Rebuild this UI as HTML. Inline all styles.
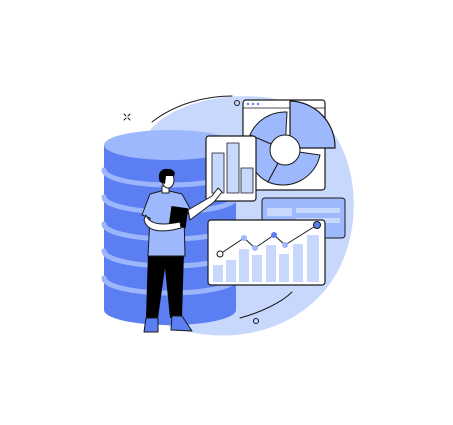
<!DOCTYPE html>
<html><head><style>html,body{margin:0;padding:0;background:#fff}svg{display:block}</style></head>
<body>
<svg width="453" height="425" viewBox="0 0 453 425" xmlns="http://www.w3.org/2000/svg" stroke-linecap="round" stroke-linejoin="round">
<!-- background blob -->
<path d="M150 130 C180 95 260 85 310 110 C350 135 365 200 345 255 C325 310 270 340 210 335 C150 330 110 300 108 240 C106 190 125 155 150 130Z" fill="#c8d8fd"/>
<path d="M152 122 C175 104 205 96 232 96" fill="none" stroke="#1a1a1a" stroke-width="1"/>
<circle cx="237" cy="103" r="2.5" fill="none" stroke="#1a1a1a" stroke-width="1"/>
<path d="M240 318 C262 312 282 302 292 292" fill="none" stroke="#1a1a1a" stroke-width="1"/>
<circle cx="256" cy="321" r="2.5" fill="none" stroke="#1a1a1a" stroke-width="1"/>
<g stroke="#1a1a1a" stroke-width="1"><line x1="124" y1="114" x2="126" y2="116"/><line x1="130" y1="114" x2="128" y2="116"/><line x1="124" y1="120" x2="126" y2="118"/><line x1="130" y1="120" x2="128" y2="118"/></g>
<!-- cylinder -->
<path d="M104 145 L104 310 A66 15 0 0 0 236 310 L236 145Z" fill="#5b7ef2"/>
<g fill="none" stroke="#9bb6fc" stroke-width="5">
<path d="M104 170 A66 15 0 0 0 236 170"/>
<path d="M104 197 A66 15 0 0 0 236 197"/>
<path d="M104 224 A66 15 0 0 0 236 224"/>
<path d="M104 251 A66 15 0 0 0 236 251"/>
<path d="M104 278 A66 15 0 0 0 236 278"/>
</g>
<ellipse cx="170" cy="145" rx="66" ry="15" fill="#9db8fc"/>
<!-- pie window -->
<rect x="243" y="100" width="82" height="90" rx="3" fill="#fff" stroke="#1a1a1a" stroke-width="1.2"/>
<line x1="243" y1="108" x2="325" y2="108" stroke="#1a1a1a" stroke-width="0.8"/>
<circle cx="248" cy="104" r="1.2" fill="#5b7ef2"/><circle cx="253" cy="104" r="1.2" fill="#5b7ef2"/><circle cx="258" cy="104" r="1.2" fill="#5b7ef2"/>
<path d="M285 150 L250 135 A38 38 0 0 1 287 112Z" fill="#9db8fc" stroke="#1a1a1a" stroke-width="1"/>
<path d="M285 150 L250 135 A38 38 0 0 0 268 182Z" fill="#9db8fc" stroke="#1a1a1a" stroke-width="1"/>
<path d="M285 150 L268 182 A38 38 0 0 0 320 155Z" fill="#9db8fc" stroke="#1a1a1a" stroke-width="1"/>
<path d="M290 148 L290 101 A46 46 0 0 1 335 148Z" fill="#9db8fc" stroke="#1a1a1a" stroke-width="1.2"/>
<circle cx="285" cy="150" r="15" fill="#fff" stroke="#1a1a1a" stroke-width="1"/>
<!-- bar card -->
<rect x="206" y="136" width="50" height="65" rx="3" fill="#fff" stroke="#1a1a1a" stroke-width="1.2"/>
<rect x="212" y="153" width="12" height="40" fill="#c8d8fd" stroke="#1a1a1a" stroke-width="0.8"/>
<rect x="227" y="143" width="12" height="50" fill="#c8d8fd" stroke="#1a1a1a" stroke-width="0.8"/>
<rect x="241" y="168" width="12" height="25" fill="#c8d8fd" stroke="#1a1a1a" stroke-width="0.8"/>
<!-- small window -->
<rect x="262" y="198" width="83" height="40" rx="3" fill="#9db8fc" stroke="#1a1a1a" stroke-width="1"/>
<rect x="267" y="208" width="25" height="8" fill="#c8d8fd"/><rect x="296" y="208" width="44" height="5" fill="#c8d8fd"/><rect x="296" y="218" width="44" height="5" fill="#c8d8fd"/>
<!-- line chart card -->
<rect x="208" y="220" width="117" height="65" rx="3" fill="#fff" stroke="#1a1a1a" stroke-width="1.2"/>
<g fill="#c8d8fd">
<rect x="213" y="265" width="10" height="17"/><rect x="226" y="260" width="10" height="22"/><rect x="239" y="249" width="10" height="33"/><rect x="252" y="255" width="10" height="27"/><rect x="266" y="245" width="10" height="37"/><rect x="279" y="254" width="10" height="28"/><rect x="293" y="244" width="10" height="38"/><rect x="307" y="235" width="12" height="47"/>
</g>
<polyline points="220,254 244,238 255,248 274,235 285,245 317,225" fill="none" stroke="#1a1a1a" stroke-width="1"/>
<circle cx="220" cy="254" r="3" fill="#fff" stroke="#1a1a1a"/>
<circle cx="244" cy="238" r="3" fill="#9db8fc"/><circle cx="255" cy="248" r="3" fill="#9db8fc"/>
<circle cx="274" cy="235" r="3" fill="#5b7ef2"/><circle cx="285" cy="245" r="3" fill="#9db8fc"/>
<circle cx="317" cy="225" r="3.5" fill="#5b7ef2" stroke="#1a1a1a"/>
<!-- person -->
<path d="M148 252 L146 318 L158 318 L165 268 L170 318 L182 316 L184 252Z" fill="#000"/>
<path d="M146 318 L144 332 L158 332 L158 318Z" fill="#5b7ef2" stroke="#1a1a1a" stroke-width="1"/>
<path d="M172 316 L171 330 L192 331 L182 316Z" fill="#5b7ef2" stroke="#1a1a1a" stroke-width="1"/>
<path d="M150 194 L142 215 L150 218 L148 256 L185 256 L184 215 L192 212 L182 194 L165 190Z" fill="#9db8fc" stroke="#1a1a1a" stroke-width="1"/>
<path d="M188 210 L212 196 L218 188 L222 192 L214 202 L190 220Z" fill="#fff" stroke="#1a1a1a" stroke-width="1"/>
<rect x="170" y="207" width="17" height="20" fill="#000" transform="rotate(8 178 217)"/>
<path d="M146 215 C150 226 165 225 180 222 L181 228 C166 232 148 234 144 220Z" fill="#fff" stroke="#1a1a1a" stroke-width="1"/>
<rect x="162" y="186" width="7" height="7" fill="#fff" stroke="#1a1a1a" stroke-width="1"/>
<ellipse cx="168" cy="180" rx="6" ry="8" fill="#fff" stroke="#1a1a1a" stroke-width="1"/>
<path d="M160 182 C157 175 160 168 168 169 C174 169 176 173 174 176 L166 176 L165 184Z" fill="#000"/>
</svg>
</body></html>
